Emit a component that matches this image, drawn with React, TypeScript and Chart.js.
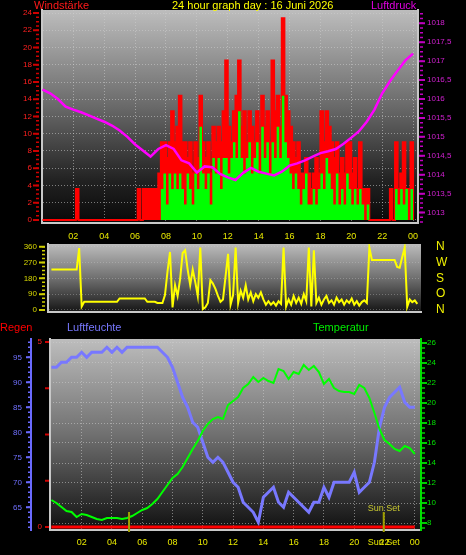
import React, { useEffect, useRef } from 'react';
import { Chart, registerables } from 'chart.js';

Chart.register(...registerables);

const FONT = "'Liberation Sans', Arial, sans-serif";

// ---------- shared time axis ----------
const HOUR_TICKS = [2, 4, 6, 8, 10, 12, 14, 16, 18, 20, 22, 24];
const HOUR_LABELS = ['02', '04', '06', '08', '10', '12', '14', '16', '18', '20', '22', '00'];

// ---------- panel 1: wind (samples every 10 min from 00:00) ----------
const WIND_STEP_MIN = 10;
const WIND_GUST = [
  0, 0, 0, 0, 0, 0, 0, 0, 0, 0, 0, 0, 0, 3.6,
  0, 0, 0, 0, 0, 0, 0, 0, 0, 0, 0, 0, 0, 0, 0, 0, 0, 0, 0, 0, 0, 0, 0,
  3.6, 0, 3.6, 3.6, 3.6, 3.6, 3.6, 3.6, 5.4,
  9.0, 9.0, 7.2, 9.0, 12.6, 9.0, 10.8, 14.4, 9.0, 9.0, 7.2, 9.0, 5.4, 9.0, 7.2, 14.4, 9.0, 7.2, 9.0, 5.4,
  10.8, 9.0, 10.8, 9.0, 12.6, 18.5, 10.8, 9.0, 12.6, 14.4,
  18.5, 10.8, 12.6, 9.0, 12.6, 10.8, 9.0, 12.6, 9.0, 14.4,
  10.8, 12.6, 9.0, 18.5, 12.6, 14.4, 10.8, 23.4, 14.4, 12.6,
  10.8, 9.0, 7.2, 9.0, 5.4, 5.4, 7.2, 5.4, 3.6, 5.4,
  7.2, 5.4, 12.6, 9.0, 12.6, 10.8, 9.0, 7.2, 9.0, 5.4,
  7.2, 5.4, 9.0, 9.0, 5.4, 7.2, 3.6, 9.0, 3.6, 3.6, 3.6,
  0, 0, 0, 0, 0, 0, 0, 0,
  3.6, 0, 9.0, 3.6, 5.4, 9.0, 3.6, 3.6, 9.0, 0,
];
const WIND_AVG = [
  0, 0, 0, 0, 0, 0, 0, 0, 0, 0, 0, 0, 0, 0, 0, 0, 0, 0, 0, 0, 0, 0, 0,
  0, 0, 0, 0, 0, 0, 0, 0, 0, 0, 0, 0, 0, 0, 0, 0, 0, 0, 0, 0, 0, 0, 0,
  3.6, 5.4, 1.8, 5.4, 3.6, 5.4, 3.6, 5.4, 3.6, 1.8, 5.4, 3.6, 1.8, 5.4, 3.6, 10.8, 5.4, 3.6, 5.4, 1.8,
  7.2, 5.4, 7.2, 3.6, 7.2, 7.2, 5.4, 7.2, 9.0, 7.2,
  12.6, 7.2, 5.4, 7.2, 9.0, 5.4, 7.2, 9.0, 5.4, 10.8,
  7.2, 9.0, 5.4, 9.0, 7.2, 10.8, 7.2, 14.4, 9.0, 7.2,
  5.4, 3.6, 5.4, 3.6, 1.8, 3.6, 5.4, 1.8, 1.8, 3.6,
  1.8, 3.6, 5.4, 3.6, 7.2, 5.4, 3.6, 1.8, 5.4, 1.8,
  3.6, 1.8, 5.4, 3.6, 1.8, 3.6, 1.8, 3.6, 1.8, 0, 1.8,
  0, 0, 0, 0, 0, 0, 0, 0, 0, 0,
  3.6, 1.8, 3.6, 1.8, 3.6, 0, 3.6, 0,
];
const WIND_TICKS = [0, 2, 4, 6, 8, 10, 12, 14, 16, 18, 20, 22, 24];

// pressure (hPa), every 30 min from 00:00
const PRESSURE_STEP_MIN = 30;
const PRESSURE = [
  1016.25, 1016.15, 1016.0, 1015.8, 1015.72, 1015.65, 1015.57, 1015.48, 1015.4, 1015.3,
  1015.17, 1015.0, 1014.8, 1014.64, 1014.48, 1014.68, 1014.78, 1014.68, 1014.38, 1014.3,
  1014.06, 1014.22, 1014.2, 1014.02, 1013.93, 1013.86, 1014.05, 1014.18, 1014.08, 1014.03,
  1013.98, 1014.08, 1014.24, 1014.3, 1014.38, 1014.48, 1014.57, 1014.62, 1014.68, 1014.82,
  1014.98, 1015.15, 1015.4, 1015.72, 1016.15, 1016.47, 1016.75, 1017.02, 1017.2,
];
const PRESSURE_TICKS = [1013, 1013.5, 1014, 1014.5, 1015, 1015.5, 1016, 1016.5, 1017, 1017.5, 1018];

// ---------- panel 2: wind direction (deg), every 10 min ----------
const DIR_STEP_MIN = 10;
const WIND_DIR = [
  230, 230, 230, 230, 230, 230, 230, 230, 230, 230, 230, 352, 20,
  47, 47, 47, 47, 47, 47, 47, 47, 47, 47, 47, 47, 47, 47,
  66, 66, 66, 66, 66, 66, 66, 66, 66, 66, 66,
  47, 47, 47, 47, 40, 40, 40,
  85, 218, 330, 15, 142, 80, 176, 324, 340, 230, 142, 230, 160, 80, 355, 5, 15, 40,
  170, 150, 120, 80, 47, 60, 190, 320, 30, 85, 355, 40, 110, 70, 140, 60, 100, 50,
  90, 70, 100, 60, 30, 50, 30, 45, 25, 50, 35, 355, 20, 60, 30, 80, 40, 70, 35, 90,
  50, 355, 20, 340, 40, 70, 30, 60, 80, 40, 55, 30, 70, 45, 60, 30, 55, 40, 65, 30,
  50, 25, 45, 55, 40, 355,
  285, 285, 285, 285, 285, 285, 285, 285, 285, 285,
  245, 240, 300, 355, 18, 60, 45, 55, 35,
];
const DIR_TICKS = [0, 90, 180, 270, 360];
const DIR_LABELS = ['N', 'O', 'S', 'W', 'N'];

// ---------- panel 3: humidity (%), temperature (°C), rain (mm) ----------
const CLIMATE_STEP_MIN = 20;
const HUMIDITY = [
  93, 93, 94, 94, 95, 95, 96, 95, 96, 96, 96, 97, 96, 97, 96, 97, 97, 97, 97, 97,
  97, 97, 96, 95, 93, 90, 87, 85, 82, 81, 78, 75, 74, 75, 74, 72, 70, 69, 66, 65,
  64, 62, 67, 68, 69, 66, 65, 68, 67, 66, 65, 64, 66, 66, 69, 67, 70, 70, 70, 70,
  72, 68, 69, 70, 74, 81, 85, 87, 88, 89, 86, 85, 85,
];
const TEMPERATURE = [
  10.3, 10.0, 9.6, 9.2, 9.1, 8.6, 8.9, 8.8, 8.6, 8.4, 8.3, 8.5, 8.5, 8.5, 8.4, 8.5, 8.7, 9.0, 9.3, 9.5,
  9.9, 10.4, 11.1, 11.8, 12.5, 12.9, 13.6, 14.5, 15.4, 16.2, 17.2, 17.9, 18.4, 18.6, 18.4, 19.8, 20.2, 20.6, 21.5, 21.9,
  22.6, 22.1, 22.5, 22.2, 22.0, 23.4, 23.2, 22.4, 23.1, 22.9, 23.8, 23.3, 23.7, 23.1, 21.9, 22.4, 21.5, 21.2, 21.1, 21.1,
  20.9, 21.8, 21.5, 20.5, 19.0, 17.4, 16.3, 15.9, 15.4, 15.2, 15.7, 15.5, 14.9,
];
const RAIN_STEP_MIN = 60;
const RAIN = [0, 0, 0, 0, 0, 0, 0, 0, 0, 0, 0, 0, 0, 0, 0, 0, 0, 0, 0, 0, 0, 0, 0, 0, 0];
const HUM_TICKS = [65, 70, 75, 80, 85, 90, 95];
const RAIN_TICKS = [0, 5];
const TEMP_TICKS = [8, 10, 12, 14, 16, 18, 20, 22, 24, 26];
const SUNRISE_H = 5.13;
const SUNSET_H = 21.95;
const SUNSET_LABEL = 'Sun Set';

// ---------- helpers ----------
const toPoints = (vals: number[], stepMin: number) => vals.map((v, i) => ({ x: (i * stepMin) / 60, y: v }));
const range = (a: number, b: number, s: number) => {
  const out: number[] = [];
  for (let v = a; v <= b + 1e-9; v += s) out.push(+v.toFixed(4));
  return out;
};
const setTicks = (vals: number[]) => (s: any) => {
  s.ticks = vals.map((v) => ({ value: v }));
};
const noPad = (s: any) => {
  s.paddingTop = 0; s.paddingBottom = 0; s.paddingLeft = 0; s.paddingRight = 0;
};
const fixW = (w: number) => (s: any) => { s.width = w; noPad(s); };
const fixH = (h: number) => (s: any) => { s.height = h; noPad(s); };

const bgPlugin = {
  id: 'bgfill',
  beforeDraw(chart: any, _a: any, opts: any) {
    const { ctx, chartArea: a } = chart;
    if (!a) return;
    const g = ctx.createLinearGradient(0, a.top, 0, a.bottom);
    (opts.stops || []).forEach((st: any) => g.addColorStop(st[0], st[1]));
    ctx.save();
    ctx.fillStyle = g;
    ctx.fillRect(a.left, a.top, a.right - a.left, a.bottom - a.top);
    ctx.restore();
  },
};

const marksPlugin = {
  id: 'marks',
  afterDraw(chart: any, _a: any, opts: any) {
    const ctx = chart.ctx;
    for (const m of opts.items || []) {
      const s = chart.scales[m.scale];
      if (!s) continue;
      ctx.save();
      ctx.strokeStyle = m.color;
      ctx.lineWidth = m.width || 1;
      ctx.beginPath();
      for (const v of m.values) {
        const edge = s.position === 'left' ? s.right : s.left;
        const y = s.getPixelForValue(v);
        ctx.moveTo(edge + m.from, y);
        ctx.lineTo(edge + m.to, y);
      }
      ctx.stroke();
      ctx.restore();
    }
  },
};

const sunPlugin = {
  id: 'sun',
  afterDatasetsDraw(chart: any, _a: any, opts: any) {
    const { ctx, chartArea: a } = chart;
    const xs = chart.scales.x;
    ctx.save();
    ctx.strokeStyle = opts.color;
    ctx.lineWidth = 2;
    ctx.beginPath();
    for (const h of opts.hours) {
      const x = xs.getPixelForValue(h);
      ctx.moveTo(x, a.bottom - opts.len);
      ctx.lineTo(x, a.bottom + 2);
    }
    ctx.stroke();
    ctx.fillStyle = opts.textColor;
    ctx.font = `9px ${FONT}`;
    ctx.textAlign = 'center';
    ctx.textBaseline = 'alphabetic';
    ctx.fillText(opts.label, xs.getPixelForValue(opts.labelAt), a.bottom - opts.len - 1);
    ctx.restore();
  },
};

const GRID = 'rgba(205,205,205,0.55)';
const baseOpts = {
  responsive: false,
  animation: false as const,
  devicePixelRatio: 1,
  events: [] as any[],
};

export default function App() {
  const r1 = useRef<HTMLCanvasElement>(null);
  const r2 = useRef<HTMLCanvasElement>(null);
  const r3 = useRef<HTMLCanvasElement>(null);

  useEffect(() => {
    Chart.defaults.font.family = FONT;
    const charts: Chart[] = [];

    // ---- panel 1 ----
    charts.push(
      new Chart(r1.current!, {
        type: 'line',
        data: {
          datasets: [
            {
              label: 'Luftdruck', data: toPoints(PRESSURE, PRESSURE_STEP_MIN), yAxisID: 'yP',
              borderColor: '#ff00ff', borderWidth: 2.5, pointRadius: 0, tension: 0, order: 0,
            },
            {
              label: 'Wind', data: toPoints(WIND_AVG, WIND_STEP_MIN), yAxisID: 'yW', stepped: true,
              borderWidth: 0, borderColor: '#00ff00', backgroundColor: '#00ff00', fill: 'origin', pointRadius: 0, order: 1,
            },
            {
              label: 'Böen', data: toPoints(WIND_GUST, WIND_STEP_MIN), yAxisID: 'yW', stepped: true,
              borderWidth: 2, borderColor: '#ff0000', backgroundColor: '#ff0000', fill: 'origin', pointRadius: 0, order: 2,
            },
          ] as any,
        },
        options: {
          ...baseOpts,
          layout: { autoPadding: false, padding: { top: 10, left: 0, right: 0, bottom: 0 } },
          plugins: {
            legend: { display: false }, tooltip: { enabled: false },
            bgfill: { stops: [[0, '#bdbdbd'], [0.45, '#6a6a6a'], [0.8, '#222222'], [1, '#080808']] },
            marks: {
              items: [
                { scale: 'yW', values: WIND_TICKS, from: -9, to: -3, color: '#d00000', width: 2 },
                { scale: 'yW', values: range(0, 24, 0.5), from: -6, to: -3, color: '#d00000', width: 1.5 },
                { scale: 'yP', values: PRESSURE_TICKS, from: 1, to: 7, color: '#c000c0', width: 2 },
                { scale: 'yP', values: range(1012.75, 1018.25, 0.125), from: 2, to: 5, color: '#c000c0', width: 1.5 },
              ],
            },
          } as any,
          scales: {
            x: {
              type: 'linear', min: -0.03, max: 24.32,
              afterBuildTicks: setTicks(HOUR_TICKS),
              afterFit: fixH(17),
              ticks: { autoSkip: false, maxRotation: 0, color: '#e8e800', font: { size: 9 }, padding: 8,
                callback: (_v: any, i: number) => HOUR_LABELS[i] },
              grid: { color: GRID, drawTicks: false, lineWidth: 1 },
              border: { color: '#c8c8c8', width: 2, dash: [1, 2] },
            },
            yW: {
              position: 'left', min: -0.35, max: 24.35,
              afterBuildTicks: setTicks(WIND_TICKS),
              afterFit: fixW(42),
              ticks: { autoSkip: false, color: '#ff2020', font: { size: 8 }, padding: 10, callback: (v: any) => String(v) },
              grid: { color: GRID, drawTicks: false, lineWidth: 1 },
              border: { color: '#c8c8c8', width: 2, dash: [1, 2] },
            },
            yP: {
              position: 'right', min: 1012.725, max: 1018.351,
              afterBuildTicks: setTicks(PRESSURE_TICKS),
              afterFit: fixW(48),
              ticks: { autoSkip: false, color: '#d020d0', font: { size: 8 }, padding: 9,
                callback: (v: any) => String(v).replace('.', ',') },
              grid: { drawOnChartArea: false, drawTicks: false },
              border: { color: '#c8c8c8', width: 2 },
            },
          } as any,
        },
        plugins: [bgPlugin, marksPlugin],
      })
    );

    // ---- panel 2 ----
    charts.push(
      new Chart(r2.current!, {
        type: 'line',
        data: {
          datasets: [
            {
              label: 'Windrichtung', data: toPoints(WIND_DIR, DIR_STEP_MIN), yAxisID: 'yD',
              borderColor: '#ffff00', borderWidth: 2, pointRadius: 0, tension: 0,
            },
          ] as any,
        },
        options: {
          ...baseOpts,
          layout: { autoPadding: false, padding: { top: 6, left: 0, right: 0, bottom: 0 } },
          plugins: {
            legend: { display: false }, tooltip: { enabled: false },
            bgfill: { stops: [[0, '#bcbcbc'], [0.5, '#707070'], [1, '#151515']] },
            marks: {
              items: [
                { scale: 'yD', values: DIR_TICKS, from: -9, to: -3, color: '#d0d000', width: 2 },
                { scale: 'yD', values: range(0, 360, 22.5), from: -6, to: -3, color: '#d0d000', width: 1.5 },
              ],
            },
          } as any,
          scales: {
            x: {
              type: 'linear', min: -0.225, max: 24.41,
              afterFit: fixH(8),
              ticks: { display: false },
              grid: { display: false },
              border: { display: true, color: '#c8c8c8', width: 2 },
            },
            yD: {
              position: 'left', min: -11.4, max: 375.4,
              afterBuildTicks: setTicks(DIR_TICKS),
              afterFit: fixW(48),
              ticks: { autoSkip: false, color: '#d8d800', font: { size: 8 }, padding: 11, callback: (v: any) => String(v) },
              grid: { color: 'rgba(205,205,205,0.35)', drawTicks: false },
              border: { color: '#c8c8c8', width: 2, dash: [1, 2] },
            },
            yN: {
              position: 'right', min: -11.4, max: 375.4,
              afterBuildTicks: setTicks(DIR_TICKS),
              afterFit: fixW(45),
              ticks: { autoSkip: false, color: '#f0f000', font: { size: 12 }, padding: 15,
                callback: (_v: any, i: number) => DIR_LABELS[i] },
              grid: { drawOnChartArea: false, drawTicks: false },
              border: { display: false },
            },
          } as any,
        },
        plugins: [bgPlugin, marksPlugin],
      })
    );

    // ---- panel 3 ----
    const X3_TICKS = [...HOUR_TICKS, SUNSET_H];
    const X3_LABELS = [...HOUR_LABELS, SUNSET_LABEL];
    charts.push(
      new Chart(r3.current!, {
        type: 'line',
        data: {
          datasets: [
            {
              label: 'Regen', data: toPoints(RAIN, RAIN_STEP_MIN), yAxisID: 'yR',
              borderColor: '#ff0000', borderWidth: 3, pointRadius: 0, tension: 0, order: 0,
            },
            {
              label: 'Temperatur', data: toPoints(TEMPERATURE, CLIMATE_STEP_MIN), yAxisID: 'yT',
              borderColor: '#00ff00', borderWidth: 2, pointRadius: 0, tension: 0, order: 1,
            },
            {
              label: 'Luftfeuchte', data: toPoints(HUMIDITY, CLIMATE_STEP_MIN), yAxisID: 'yH',
              borderColor: '#7878ff', borderWidth: 3, pointRadius: 0, tension: 0, order: 2,
            },
          ] as any,
        },
        options: {
          ...baseOpts,
          layout: { autoPadding: false, padding: { top: 19, left: 0, right: 0, bottom: 0 } },
          plugins: {
            legend: { display: false }, tooltip: { enabled: false },
            bgfill: { stops: [[0, '#bdbdbd'], [0.5, '#707070'], [1, '#101010']] },
            sun: { hours: [SUNRISE_H, SUNSET_H], len: 18, color: '#a0a000', textColor: '#c8c830',
              label: SUNSET_LABEL, labelAt: SUNSET_H },
            marks: {
              items: [
                { scale: 'yH', values: HUM_TICKS, from: -5, to: 0, color: '#6a6aff', width: 2 },
                { scale: 'yH', values: range(61, 98, 1), from: -3, to: 0, color: '#6a6aff', width: 1.5 },
                { scale: 'yR', values: range(0, 5, 1.25), from: -5, to: -1, color: '#d00000', width: 2 },
                { scale: 'yT', values: TEMP_TICKS, from: 1, to: 6, color: '#00d000', width: 2 },
                { scale: 'yT', values: range(7.5, 26, 0.5), from: 1, to: 4, color: '#00d000', width: 1.5 },
              ],
            },
          } as any,
          scales: {
            x: {
              type: 'linear', min: -0.09, max: 24.41,
              afterBuildTicks: setTicks(X3_TICKS),
              afterFit: fixH(25),
              ticks: { autoSkip: false, maxRotation: 0, color: '#e8e800', font: { size: 9 }, padding: 7,
                callback: (_v: any, i: number) => X3_LABELS[i] },
              grid: { color: (c: any) => (c.tick && c.tick.value === SUNSET_H ? 'rgba(0,0,0,0)' : GRID), drawTicks: false },
              border: { color: '#c8c8c8', width: 2, dash: [1, 2] },
            },
            yH: {
              position: 'left', weight: 1, min: 60.46, max: 98.66,
              afterBuildTicks: setTicks(HUM_TICKS),
              afterFit: fixW(31),
              ticks: { autoSkip: false, color: '#7070ff', font: { size: 8 }, padding: 9, callback: (v: any) => String(v) },
              grid: { drawOnChartArea: false, drawTicks: false },
              border: { color: '#6a6aff', width: 2 },
            },
            yR: {
              position: 'left', weight: 0, min: -0.08, max: 5.08,
              afterBuildTicks: setTicks(RAIN_TICKS),
              afterFit: fixW(19),
              ticks: { autoSkip: false, color: '#ff2020', font: { size: 8 }, padding: 8, callback: (v: any) => String(v) },
              grid: { drawOnChartArea: false, drawTicks: false },
              border: { color: '#c8c8c8', width: 2 },
            },
            yT: {
              position: 'right', min: 7.3, max: 26.4,
              afterBuildTicks: setTicks(TEMP_TICKS),
              afterFit: fixW(45),
              ticks: { autoSkip: false, color: '#00e000', font: { size: 8 }, padding: 6, callback: (v: any) => String(v) },
              grid: { color: GRID, drawTicks: false },
              border: { color: '#00e000', width: 2, dash: [1, 2] },
            },
          } as any,
        },
        plugins: [bgPlugin, marksPlugin, sunPlugin],
      })
    );

    return () => charts.forEach((c) => c.destroy());
  }, []);

  const label = (text: string, left: number, top: number, color: string) => (
    <div style={{ position: 'absolute', left, top, color, fontSize: 11, lineHeight: '11px',
      fontFamily: FONT, whiteSpace: 'nowrap' }}>{text}</div>
  );

  return (
    <div style={{ position: 'absolute', left: 0, top: 0, width: 466, height: 555, background: '#000', overflow: 'hidden' }}>
      <canvas ref={r1} width={466} height={240} style={{ position: 'absolute', left: 0, top: 0 }} />
      <canvas ref={r2} width={466} height={82} style={{ position: 'absolute', left: 0, top: 238 }} />
      <canvas ref={r3} width={466} height={235} style={{ position: 'absolute', left: 0, top: 320 }} />
      {label('Windstärke', 34, 0, '#ff1a1a')}
      {label('24 hour graph day : 16 Juni 2026', 172, 0, '#ffff00')}
      {label('Luftdruck', 371, 0, '#e000e0')}
      {label('Regen', 0, 322, '#ff0000')}
      {label('Luftfeuchte', 67, 322, '#7878ff')}
      {label('Temperatur', 313, 322, '#00ee00')}
    </div>
  );
}
